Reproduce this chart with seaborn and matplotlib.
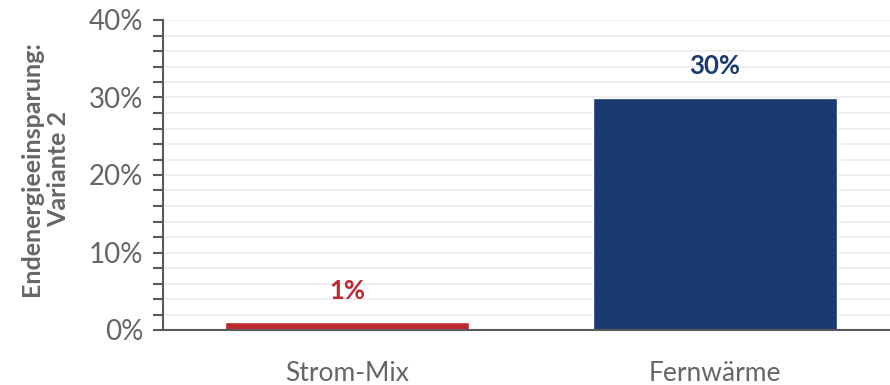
import matplotlib
matplotlib.use("Agg")
import matplotlib.pyplot as plt
import seaborn as sns
import pandas as pd
from matplotlib.ticker import MultipleLocator, PercentFormatter

categories = ["Strom-Mix", "Fernwärme"]
values = [0.01, 0.30]
bar_colors = ["#C0282F", "#1B3A6F"]
value_labels = ["1%", "30%"]
y_label = "Endenergieeinsparung:\nVariante 2"

sns.set_theme(style="white")
plt.rcParams["font.family"] = ["Lato", "DejaVu Sans"]

df = pd.DataFrame({"Kategorie": categories, "Wert": values})

fig = plt.figure(figsize=(8.9, 3.85), dpi=100)
ax = fig.add_axes([163 / 890, 55 / 385, 736 / 890, 310 / 385])

sns.barplot(data=df, x="Kategorie", y="Wert", hue="Kategorie",
            palette=bar_colors, width=0.663, legend=False, ax=ax,
            saturation=1)

text_gray = "#666666"
ax.set_xlim(-0.5, 1.5)
ax.set_ylim(0, 0.40)
ax.yaxis.set_major_locator(MultipleLocator(0.10))
ax.yaxis.set_minor_locator(MultipleLocator(0.02))
ax.yaxis.set_major_formatter(PercentFormatter(1.0, decimals=0))
ax.grid(axis="y", which="both", color="#EBEBEB", linewidth=1.2)
ax.set_axisbelow(True)

for s in ["top", "right"]:
    ax.spines[s].set_visible(False)
for s in ["left", "bottom"]:
    ax.spines[s].set_color("#595959")
    ax.spines[s].set_linewidth(1.5)

ax.tick_params(axis="y", which="major", left=True, length=7, width=1.5,
               color="#595959", labelsize=20, labelcolor=text_gray, pad=7)
ax.tick_params(axis="y", which="minor", left=True, length=7, width=1.5,
               color="#595959")
ax.tick_params(axis="x", bottom=False, labelsize=19, labelcolor=text_gray, pad=16)

ax.set_xlabel("")
ax.set_ylabel(y_label, fontsize=18, fontweight="bold", color=text_gray,
              linespacing=1.2)
ax.yaxis.label.set_multialignment("center")
ax.yaxis.set_label_coords(-0.126, 0.52)

for patch, lab, col in zip(ax.patches, value_labels, bar_colors):
    ax.annotate(lab, (patch.get_x() + patch.get_width() / 2, patch.get_height()),
                xytext=(0, 14), textcoords="offset points", ha="center",
                va="bottom", fontsize=18.5, fontweight="bold", color=col)

fig.savefig("out.png", dpi=100)
